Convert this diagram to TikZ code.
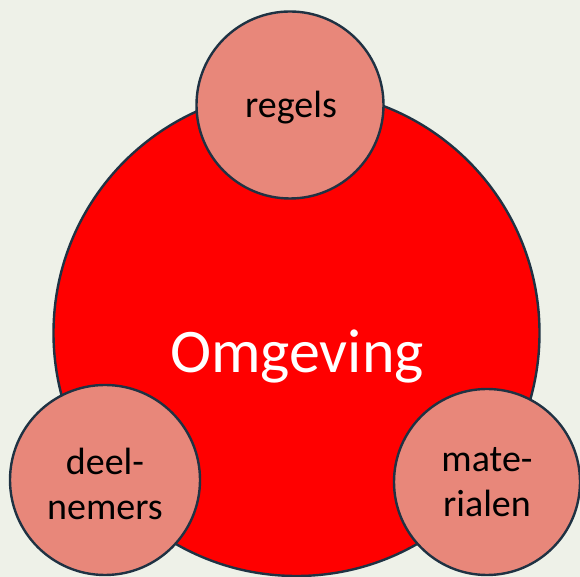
\documentclass[tikz,border=0pt]{standalone}
\usepackage{fontspec}
\setmainfont{Carlito}
\definecolor{bgc}{HTML}{EEF1E8}
\definecolor{salmon}{HTML}{E8877A}
\definecolor{edgec}{HTML}{1F3243}
\definecolor{bigred}{HTML}{FF0000}
\tikzset{
  ring/.style={circle, draw=edgec, line width=2.4pt, inner sep=0pt},
  bigring/.style={ring, fill=bigred},
  smallring/.style={ring, fill=salmon},
  lbl/.style={anchor=base, align=center, text=black, inner sep=0pt,
    font=\fontsize{38}{45}\selectfont},
  biglbl/.style={anchor=base, text=white, inner sep=0pt,
    font=\fontsize{62}{70}\selectfont}
}
\begin{document}
\begin{tikzpicture}[x=1pt,y=1pt]
\fill[bgc] (0,0) rectangle (580,577);
\useasboundingbox (0,0) rectangle (580,577);
\node[bigring, minimum size=486pt] (omg) at (296.5,244) {};
\node[smallring, minimum size=187pt] (reg) at (290,472) {};
\node[smallring, minimum size=190pt] (dee) at (105,97) {};
\node[smallring, minimum size=186pt] (mat) at (487,95) {};
\node[biglbl] (tomg) at (297,204) {Omgeving};
\node[lbl] (treg) at (291,459) {regels};
\node[lbl] (tdee) at (105,57) {deel-\\nemers};
\node[lbl] (tmat) at (487,60) {mate-\\rialen};
\end{tikzpicture}
\end{document}
